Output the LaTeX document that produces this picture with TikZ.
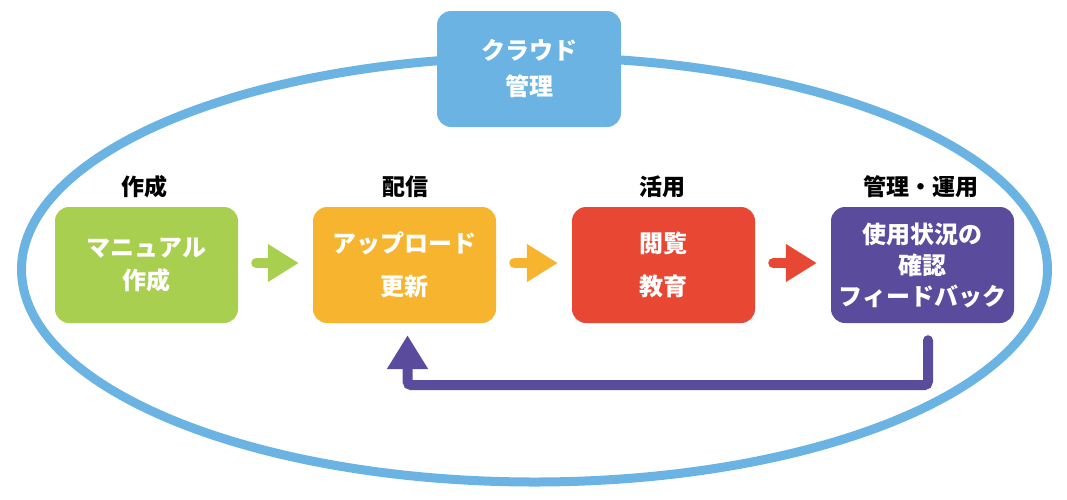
\documentclass[tikz,border=0pt]{standalone}
\usepackage{fontspec}
\newfontfamily\jp{Noto Sans CJK JP}
\usetikzlibrary{arrows.meta,calc}
\definecolor{cblue}{HTML}{6AB3E2}
\definecolor{cgreen}{HTML}{A9CF51}
\definecolor{corange}{HTML}{F7B52F}
\definecolor{cred}{HTML}{E84833}
\definecolor{cpurple}{HTML}{5A4B9D}
\begin{document}
\begin{tikzpicture}[x=1pt,y=-1pt,
  stepbox/.style={rounded corners=14pt, minimum width=183pt, minimum height=116pt, inner sep=0pt, text=white, align=center},
  toplabel/.style={font=\jp\bfseries\fontsize{23}{26}\selectfont, text=black},
  fatarrow/.style={line width=10pt, line cap=round, -{Triangle[width=36pt,length=31pt]}},
  fb/.style={draw=cpurple, line width=10pt, line cap=round, rounded corners=4pt, -{Triangle[width=39pt,length=34pt]}}]
\useasboundingbox (0,0) rectangle (1067,499);
\draw[cblue, line width=9pt] (534.5,269.5) ellipse [x radius=513, y radius=212.5];
\node[stepbox, fill=cblue, minimum width=184pt, minimum height=116pt, font=\jp\bfseries\fontsize{24}{36}\selectfont] (cloud) at (529,69) {クラウド\\管理};
\node[stepbox, fill=cgreen, font=\jp\bfseries\fontsize{24}{33}\selectfont] (b1) at (146.5,265) {マニュアル\\作成};
\node[stepbox, fill=corange, font=\jp\bfseries\fontsize{24}{43}\selectfont] (b2) at (404.5,265) {アップロード\\更新};
\node[stepbox, fill=cred, font=\jp\bfseries\fontsize{24}{43}\selectfont] (b3) at (663.5,265) {閲覧\\教育};
\node[stepbox, fill=cpurple, font=\jp\bfseries\fontsize{24}{31}\selectfont] (b4) at (922.5,265) {使用状況の\\確認\\フィードバック};
\node[toplabel] (l1) at (144,187) {作成};
\node[toplabel] (l2) at (405,187) {配信};
\node[toplabel] (l3) at (662,187) {活用};
\node[toplabel] (l4) at (921,187) {管理・運用};
\draw[fatarrow, cgreen] ($(b1.east)+(18,-2)$) -- ($(b2.west)+(-14,-2)$);
\draw[fatarrow, corange] ($(b2.east)+(18,-2)$) -- ($(b3.west)+(-14,-2)$);
\draw[fatarrow, cred] ($(b3.east)+(18,-2)$) -- ($(b4.west)+(-14,-2)$);
\draw[fb] ($(b4.south)+(5.5,17)$) -- ++(0,45) -| ($(b2.south)+(3,12)$);
\end{tikzpicture}
\end{document}
